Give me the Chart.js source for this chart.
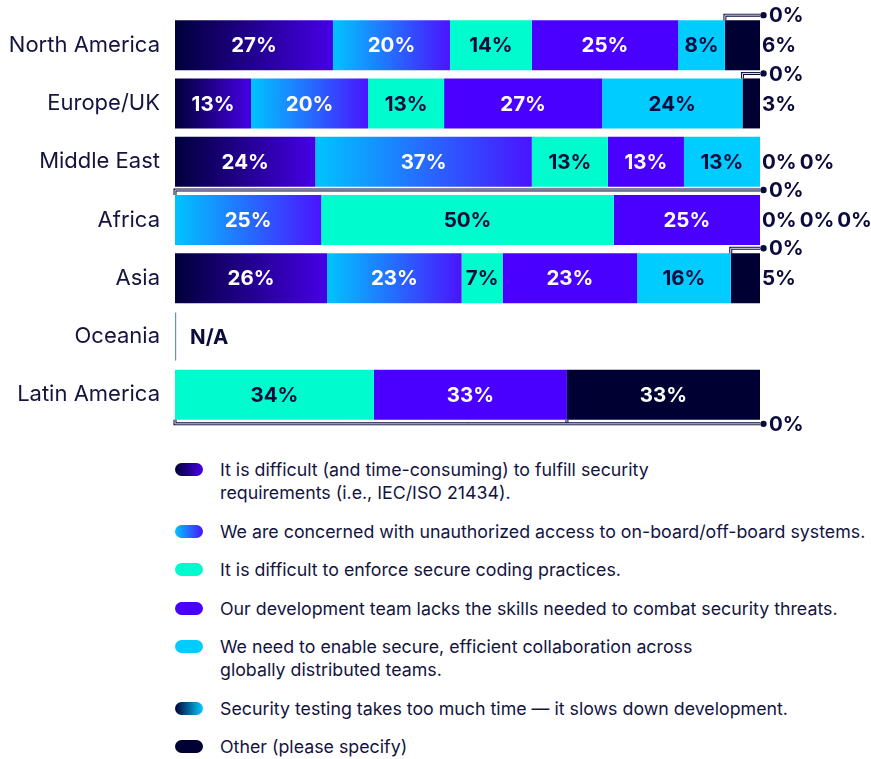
<!DOCTYPE html>
<html>
<head>
<meta charset="utf-8">
<title>Security challenges by region</title>
<script src="https://cdn.jsdelivr.net/npm/chart.js@4.4.1/dist/chart.umd.min.js"></script>
<style>
    body { margin: 0; background: #fff; font-family: Inter, 'Noto Sans', sans-serif; color: #10103f; }
    #wrap { position: relative; width: 871px; height: 445px; }
    #legend { position: absolute; left: 175px; top: 458px; width: 696px; overflow: hidden; }
    .item { display: flex; align-items: flex-start; margin-bottom: 15.5px; }
    .pill { flex: none; width: 28px; height: 13px; border-radius: 7px; margin-top: 5px; margin-right: 17px; }
    .text { font-size: 17.8px; line-height: 23px; white-space: nowrap; color: #14143f; }
</style>
</head>
<body>
<div id="wrap"><canvas id="chart"></canvas></div>
<div id="legend"></div>
<script>
const regions = ['North America', 'Europe/UK', 'Middle East', 'Africa', 'Asia', 'Oceania', 'Latin America']

const difficultReqs      = [27, 13, 24,  0, 26, null,  0]
const unauthorizedAccess = [20, 20, 37, 25, 23, null,  0]
const secureCoding       = [14, 13, 13, 50,  7, null, 34]
const lacksSkills        = [25, 27, 13, 25, 23, null, 33]
const collaboration      = [ 8, 24, 13,  0, 16, null,  0]
const testingTime        = [ 0,  0,  0,  0,  0, null,  0]
const otherReason        = [ 6,  3,  0,  0,  5, null, 33]

const legendLines = [
    ['It is difficult (and time-consuming) to fulfill security', 'requirements (i.e., IEC/ISO 21434).'],
    ['We are concerned with unauthorized access to on-board/off-board systems.'],
    ['It is difficult to enforce secure coding practices.'],
    ['Our development team lacks the skills needed to combat security threats.'],
    ['We need to enable secure, efficient collaboration across', 'globally distributed teams.'],
    ['Security testing takes too much time \u2014 it slows down development.'],
    ['Other (please specify)']
]

const NAVY = '#0a0a3c'
const CAT_PCT = 0.858

// fill: a single colour or a [left, right] pair drawn as a horizontal gradient per segment
const series = [
    { data: difficultReqs,      fill: ['#00003a', '#4600e6'], ink: '#ffffff' },
    { data: unauthorizedAccess, fill: ['#00c4ff', '#4a14ff'], ink: '#ffffff' },
    { data: secureCoding,       fill: '#00fbcf',              ink: NAVY },
    { data: lacksSkills,        fill: '#4a00ff',              ink: '#ffffff' },
    { data: collaboration,      fill: '#00ccff',              ink: NAVY },
    { data: testingTime,        fill: ['#000038', '#00ccff'], ink: '#ffffff' },
    { data: otherReason,        fill: '#000033',              ink: '#ffffff' }
]

function segmentFill(ctx) {
    const s = series[ctx.datasetIndex]
    if (!Array.isArray(s.fill)) return s.fill
    const chart = ctx.chart
    const x = chart.scales.x
    if (!x || ctx.type !== 'data') return s.fill[0]
    const i = ctx.dataIndex
    let start = 0
    for (let d = 0; d < ctx.datasetIndex; d++) start += series[d].data[i] || 0
    const end = start + (s.data[i] || 0)
    const x0 = x.getPixelForValue(start), x1 = x.getPixelForValue(end)
    if (!isFinite(x0) || !isFinite(x1) || x1 <= x0) return s.fill[0]
    const g = chart.ctx.createLinearGradient(x0, 0, x1, 0)
    g.addColorStop(0, s.fill[0])
    g.addColorStop(1, s.fill[1])
    return g
}

function doubleLine(ctx, pts) {
    ctx.beginPath()
    pts.forEach(([px, py], k) => k ? ctx.lineTo(px, py) : ctx.moveTo(px, py))
    ctx.strokeStyle = NAVY
    ctx.lineWidth = 3
    ctx.stroke()
    ctx.strokeStyle = '#e8e8f0'
    ctx.lineWidth = 1
    ctx.stroke()
}

const segmentLabels = {
    id: 'segmentLabels',
    afterDatasetsDraw(chart) {
        const { ctx, scales: { x, y } } = chart
        const band = y.getPixelForValue(1) - y.getPixelForValue(0)
        const barH = band * CAT_PCT
        const right = x.getPixelForValue(100)
        ctx.save()
        ctx.font = '700 20.5px Inter'
        ctx.textBaseline = 'middle'

        regions.forEach((region, i) => {
            const yc = y.getPixelForValue(i)
            const top = yc - barH / 2, bottom = yc + barH / 2
            const values = series.map(s => s.data[i])

            if (values.every(v => v == null)) {
                ctx.fillStyle = '#5f8fd6'
                ctx.fillRect(x.getPixelForValue(0), top + 1, 1.2, barH - 2)
                ctx.fillStyle = NAVY
                ctx.textAlign = 'left'
                ctx.fillText('N/A', x.getPixelForValue(0) + 15, yc + 1)
                return
            }

            let lastNonZero = -1
            values.forEach((v, d) => { if (v > 0) lastNonZero = d })

            let acc = 0
            const zeroAt = []
            const outside = []
            values.forEach((v, d) => {
                const x0 = x.getPixelForValue(acc)
                const x1 = x.getPixelForValue(acc + v)
                if (v === 0) {
                    if (d < lastNonZero) { if (!zeroAt.includes(x0)) zeroAt.push(x0) }
                    else outside.push('0%')
                } else if (d === lastNonZero && v <= 6) {
                    outside.unshift(v + '%')
                } else {
                    ctx.fillStyle = series[d].ink
                    ctx.textAlign = 'center'
                    ctx.fillText(v + '%', (x0 + x1) / 2, yc + 1)
                }
                acc += v
            })

            // labels that do not fit sit to the right of the bar
            ctx.fillStyle = NAVY
            ctx.textAlign = 'left'
            let ox = right + 2
            outside.forEach(t => {
                ctx.fillText(t, ox, yc + 1)
                ox += ctx.measureText(t).width + 3
            })

            // zero-width segments inside the bar get a bracket callout
            if (zeroAt.length) {
                const below = zeroAt.length > 1
                const ly = below ? bottom + 4 : top - 5
                const edge = below ? bottom : top
                zeroAt.slice(1).forEach(zx => doubleLine(ctx, [[zx, edge], [zx, ly]]))
                doubleLine(ctx, [[zeroAt[0], edge], [zeroAt[0], ly], [right, ly]])
                ctx.fillStyle = NAVY
                ctx.beginPath()
                ctx.arc(right + 3.5, ly, 3.2, 0, Math.PI * 2)
                ctx.fill()
                ctx.fillText('0%', right + 9, ly + 1)
            }
        })
        ctx.restore()
    }
}

new Chart(document.getElementById('chart'), {
    type: 'bar',
    data: {
        labels: regions,
        datasets: series.map(s => ({
            data: s.data,
            backgroundColor: segmentFill,
            borderWidth: 0,
            barPercentage: 1,
            categoryPercentage: CAT_PCT
        }))
    },
    options: {
        indexAxis: 'y',
        responsive: true,
        maintainAspectRatio: false,
        animation: false,
        events: [],
        layout: { padding: { top: 16, right: 111, bottom: 21, left: 0 } },
        plugins: { legend: { display: false }, tooltip: { enabled: false } },
        scales: {
            x: { stacked: true, min: 0, max: 100, display: false },
            y: {
                stacked: true,
                grid: { display: false, drawTicks: false },
                border: { display: false },
                ticks: { color: '#14143f', font: { family: 'Inter', size: 22 }, padding: 15 },
                afterFit(scale) {
                    scale.width = 175
                    scale.paddingTop = 0
                    scale.paddingBottom = 0
                }
            }
        }
    },
    plugins: [segmentLabels]
})

// HTML legend with the same fills as the bars
const legend = document.getElementById('legend')
series.forEach((s, d) => {
    const item = document.createElement('div')
    item.className = 'item'
    const pill = document.createElement('span')
    pill.className = 'pill'
    pill.style.background = Array.isArray(s.fill) ? `linear-gradient(90deg, ${s.fill[0]}, ${s.fill[1]})` : s.fill
    const text = document.createElement('span')
    text.className = 'text'
    legendLines[d].forEach((line, k) => {
        if (k) text.appendChild(document.createElement('br'))
        text.appendChild(document.createTextNode(line))
    })
    item.append(pill, text)
    legend.appendChild(item)
})
</script>
</body>
</html>
